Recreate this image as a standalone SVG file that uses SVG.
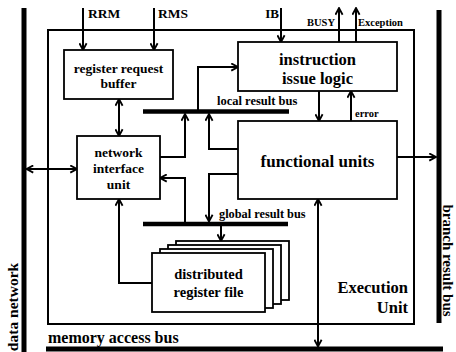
<svg xmlns="http://www.w3.org/2000/svg" width="456" height="352" viewBox="0 0 456 352">
<style>
.box{fill:#fff;stroke:#000;stroke-width:1.8}
.frame{fill:none;stroke:#000;stroke-width:2}
.ln{fill:none;stroke:#000;stroke-width:2}
.bus{stroke:#000;stroke-width:5;fill:none}
.lbus{stroke:#000;stroke-width:4.5;fill:none}
text{font-family:"Liberation Serif","Times New Roman",serif;font-weight:bold;fill:#000}
.c{text-anchor:middle}
</style>
<defs>
<marker id="arr" viewBox="0 0 10 10" refX="9" refY="5" markerUnits="userSpaceOnUse" markerWidth="9" markerHeight="9" orient="auto-start-reverse">
<path d="M1.5,1 L9,5 L1.5,9" fill="none" stroke="#000" stroke-width="2"/>
</marker>
</defs>
<rect width="456" height="352" fill="#fff"/>

<g id="buses">
<line class="bus" x1="24" y1="8" x2="24" y2="352"/>
<line class="bus" x1="439" y1="10" x2="439" y2="323"/>
<line class="bus" x1="46" y1="349" x2="443" y2="349"/>
<line class="lbus" x1="143" y1="111.5" x2="289" y2="111.5"/>
<line class="lbus" x1="143" y1="224" x2="288" y2="224"/>
<text x="217" y="105" font-size="12.5">local result bus</text>
<text x="219" y="218" font-size="12.3">global result bus</text>
<text x="48" y="343" font-size="16">memory access bus</text>
<text class="c" font-size="15.5" transform="translate(18,307) rotate(-90)">data network</text>
<text class="c" font-size="15" transform="translate(443,260.5) rotate(90)">branch result bus</text>
</g>

<g id="execution-unit">
<rect class="frame" x="48" y="30" width="366" height="294"/>
<text x="408" y="293" font-size="16.5" text-anchor="end">Execution</text>
<text x="408" y="313" font-size="16.5" text-anchor="end">Unit</text>
</g>

<g id="connectors">
<line class="ln" x1="83" y1="8" x2="83" y2="50" marker-end="url(#arr)"/>
<line class="ln" x1="154" y1="8" x2="154" y2="50" marker-end="url(#arr)"/>
<line class="ln" x1="281" y1="8" x2="281" y2="42" marker-end="url(#arr)"/>
<line class="ln" x1="339" y1="42" x2="339" y2="8" marker-end="url(#arr)"/>
<line class="ln" x1="356" y1="42" x2="356" y2="8" marker-end="url(#arr)"/>
<line class="ln" x1="119" y1="99" x2="119" y2="136" marker-start="url(#arr)" marker-end="url(#arr)"/>
<line class="ln" x1="26.5" y1="169" x2="77" y2="169" marker-start="url(#arr)" marker-end="url(#arr)"/>
<polyline class="ln" points="198,111 198,67 238,67" marker-end="url(#arr)"/>
<polyline class="ln" points="160,157 185,157 185,114" marker-end="url(#arr)"/>
<polyline class="ln" points="185,222 185,178 160,178" marker-end="url(#arr)"/>
<polyline class="ln" points="238,149 209,149 209,114" marker-end="url(#arr)"/>
<polyline class="ln" points="238,174 209,174 209,221.5" marker-end="url(#arr)"/>
<line class="ln" x1="221" y1="226" x2="221" y2="241" marker-end="url(#arr)"/>
<polyline class="ln" points="152,283 119,283 119,199" marker-end="url(#arr)"/>
<line class="ln" x1="319" y1="91" x2="319" y2="121" marker-end="url(#arr)"/>
<line class="ln" x1="351" y1="121" x2="351" y2="91" marker-end="url(#arr)"/>
<line class="ln" x1="397" y1="157" x2="436" y2="157" marker-end="url(#arr)"/>
<line class="ln" x1="318" y1="199" x2="318" y2="346.5" marker-start="url(#arr)" marker-end="url(#arr)"/>
<text x="88" y="18" font-size="13.5">RRM</text>
<text x="158" y="18" font-size="13.5">RMS</text>
<text x="279" y="18" font-size="13" text-anchor="end">IB</text>
<text x="335" y="26" font-size="10.5" text-anchor="end">BUSY</text>
<text x="358" y="26" font-size="10.5">Exception</text>
<text x="355" y="117" font-size="10.5">error</text>
</g>

<g id="register-request-buffer">
<rect class="box" x="64" y="50" width="109" height="49"/>
<text class="c" x="118.5" y="72.5" font-size="13.5">register request</text>
<text class="c" x="118.5" y="88" font-size="13.5">buffer</text>
</g>

<g id="network-interface-unit">
<rect class="box" x="77" y="136" width="83" height="63"/>
<text class="c" x="118.5" y="157" font-size="13.5">network</text>
<text class="c" x="118.5" y="173" font-size="13.5">interface</text>
<text class="c" x="118.5" y="189" font-size="13.5">unit</text>
</g>

<g id="instruction-issue-logic">
<rect class="box" x="238" y="42" width="159" height="49"/>
<text class="c" x="317.5" y="65" font-size="16.5">instruction</text>
<text class="c" x="317.5" y="84" font-size="16.5">issue logic</text>
</g>

<g id="functional-units">
<rect class="box" x="238" y="121" width="159" height="78"/>
<text class="c" x="317.5" y="167" font-size="17">functional units</text>
</g>

<g id="distributed-register-file">
<rect class="box" x="176" y="241" width="113" height="59"/>
<rect class="box" x="168" y="245" width="113" height="59"/>
<rect class="box" x="160" y="249" width="113" height="59"/>
<rect class="box" x="152" y="253" width="113" height="59"/>
<text class="c" x="208.5" y="279" font-size="14.5">distributed</text>
<text class="c" x="208.5" y="297" font-size="14.5">register file</text>
</g>
</svg>
